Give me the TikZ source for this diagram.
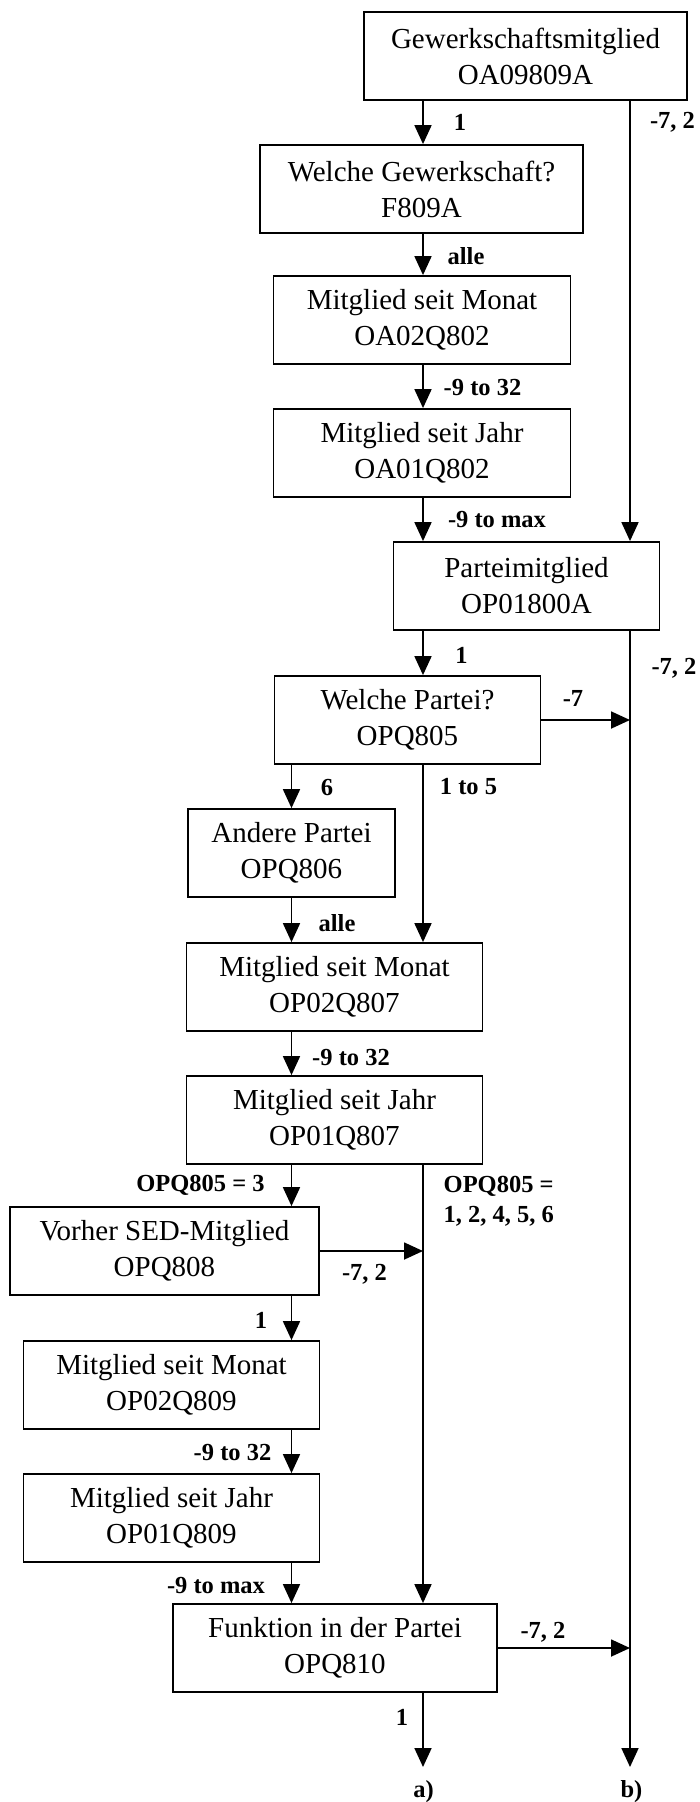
\documentclass[tikz,border=0pt]{standalone}
\usepackage{fontspec}
\setmainfont{Liberation Serif}
\usetikzlibrary{arrows.meta}
\tikzset{
  box/.style={draw, line width=1.8pt, minimum height=88pt, inner sep=0pt, align=center,
    font=\fontsize{29}{36}\selectfont},
  lbl/.style={inner sep=0pt, font=\fontsize{24.5}{30}\selectfont\bfseries},
  arr/.style={line width=1.8pt, -{Triangle[length=19pt,width=17pt]}}
}
\begin{document}
\begin{tikzpicture}[x=1pt,y=-1pt]
    \useasboundingbox (0,0) rectangle (699,1802);
    \node[box, minimum width=322.5pt] (gewerk) at (525.5,56) {Gewerkschaftsmitglied\\OA09809A};
    \node[box, minimum width=322.5pt] (welchegew) at (421.5,189) {Welche Gewerkschaft?\\F809A};
    \node[box, minimum width=297pt] (monatA) at (422,320) {Mitglied seit Monat\\OA02Q802};
    \node[box, minimum width=297pt] (jahrA) at (422,453) {Mitglied seit Jahr\\OA01Q802};
    \node[box, minimum width=266pt] (partei) at (526.5,586) {Parteimitglied\\OP01800A};
    \node[box, minimum width=266pt] (welchepartei) at (407.5,720) {Welche Partei?\\OPQ805};
    \node[box, minimum width=207.5pt] (andere) at (291.5,853) {Andere Partei\\OPQ806};
    \node[box, minimum width=296pt] (monatB) at (334.5,987) {Mitglied seit Monat\\OP02Q807};
    \node[box, minimum width=296pt] (jahrB) at (334.5,1120) {Mitglied seit Jahr\\OP01Q807};
    \node[box, minimum width=309.5pt] (vorher) at (164.5,1251) {Vorher SED-Mitglied\\OPQ808};
    \node[box, minimum width=296pt] (monatC) at (171.5,1385) {Mitglied seit Monat\\OP02Q809};
    \node[box, minimum width=296pt] (jahrC) at (171.5,1518) {Mitglied seit Jahr\\OP01Q809};
    \node[box, minimum width=324pt] (funktion) at (335,1648) {Funktion in der Partei\\OPQ810};
    \coordinate (a) at (423,1767);
    \coordinate (b) at (630,1767);
    \draw[arr] (gewerk.south -| a) -- (welchegew.north -| a);
    \draw[arr] (welchegew.south -| a) -- (monatA.north -| a);
    \draw[arr] (monatA.south -| a) -- (jahrA.north -| a);
    \draw[arr] (jahrA.south -| a) -- (partei.north -| a);
    \draw[arr] (gewerk.south -| b) -- (partei.north -| b);
    \draw[arr] (partei.south -| a) -- (welchepartei.north -| a);
    \draw[arr] (partei.south -| b) -- (b);
    \draw[arr] (welchepartei.east) -- (welchepartei.east -| b);
    \draw[arr] (welchepartei.south -| andere) -- (andere.north);
    \draw[arr] (welchepartei.south -| a) -- (monatB.north -| a);
    \draw[arr] (andere.south) -- (monatB.north -| andere);
    \draw[arr] (monatB.south -| andere) -- (jahrB.north -| andere);
    \draw[arr] (jahrB.south -| andere) -- (vorher.north -| andere);
    \draw[arr] (jahrB.south -| a) -- (funktion.north -| a);
    \draw[arr] (vorher.east) -- (vorher.east -| a);
    \draw[arr] (vorher.south -| andere) -- (monatC.north -| andere);
    \draw[arr] (monatC.south -| andere) -- (jahrC.north -| andere);
    \draw[arr] (jahrC.south -| andere) -- (funktion.north -| andere);
    \draw[arr] (funktion.east) -- (funktion.east -| b);
    \draw[arr] (funktion.south -| a) -- (a);
    \foreach \nm/\xx/\yy/\lab in {
        l1/460/122/1, l2/672.5/122/{-7, 2}, l3/466/256/alle,
        l4/482.5/388/-9 to 32, l5/497/520/-9 to max, l6/461.5/655/1,
        l7/674/668/{-7, 2}, l8/573/698/-7, l9/327/787/6,
        l10/468.5/787/1 to 5, l11/337/923/alle, l12/351/1057/-9 to 32,
        l13/200.5/1185/OPQ805 = 3, l14/364.5/1274/{-7, 2}, l15/261/1320/1,
        l16/232.5/1452/-9 to 32, l17/216/1585/-9 to max, l18/543/1632/{-7, 2},
        l19/402/1717/1, la/423.5/1792/a), lb/631.5/1792/b)
    } {
        \node[lbl] (\nm) at (\xx,\yy) {\lab};
    }
    \node[lbl, anchor=west, align=left] (l20) at (443.5,1201) {OPQ805 =\\1, 2, 4, 5, 6};
\end{tikzpicture}
\end{document}
